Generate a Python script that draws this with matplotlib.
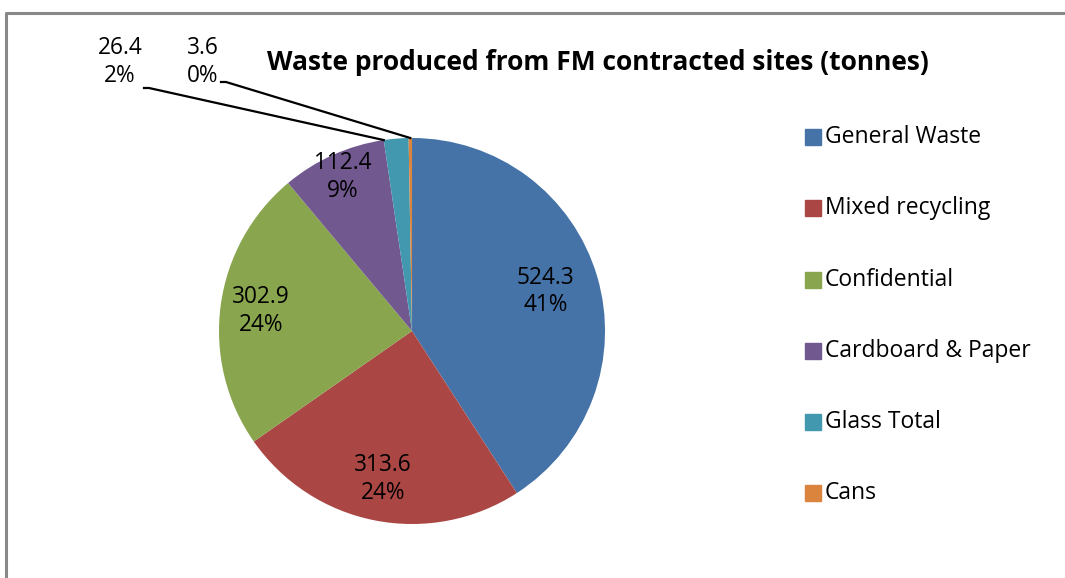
import matplotlib
matplotlib.use("Agg")
import matplotlib.pyplot as plt
import numpy as np

# data
categories = ['General Waste', 'Mixed recycling', 'Confidential',
              'Cardboard & Paper', 'Glass Total', 'Cans']
tonnes = [524.3, 313.6, 302.9, 112.4, 26.4, 3.6]
colours = ['#4572A7', '#AA4643', '#89A54E', '#71588F', '#4198AF', '#DB843D']
title = 'Waste produced from FM contracted sites (tonnes)'

plt.rcParams['font.family'] = ['Open Sans', 'DejaVu Sans']

W, H = 1065, 578
fig = plt.figure(figsize=(W / 100, H / 100), dpi=100)
ax = fig.add_axes([0, 0, 1, 1])

cx, cy, R = 412, H - 331, 193
explode = [0.03, 0, 0, 0, 0, 0]
wedges, _ = ax.pie(tonnes, colors=colours, startangle=90, counterclock=False,
                   explode=explode, center=(cx, cy), radius=R,
                   wedgeprops=dict(linewidth=0), frame=True)
ax.set_xlim(0, W)
ax.set_ylim(0, H)
ax.set_aspect('equal')
ax.axis('off')

# outer frame (only top and left visible)
ax.plot([6, 6, W + 10], [-10, H - 13, H - 13], color='#888888', lw=2.2,
        solid_capstyle='butt')

total = sum(tonnes)
pct = [v / total * 100 for v in tonnes]
fs = 16.3

# labels inside the big slices
fracs = [0.72, 0.78, 0.79, 0.875]
for i in range(4):
    w = wedges[i]
    mid = np.deg2rad((w.theta1 + w.theta2) / 2)
    wx, wy = w.center
    tx = wx + fracs[i] * R * np.cos(mid)
    ty = wy + fracs[i] * R * np.sin(mid)
    ax.text(tx, ty, '%.1f\n%.0f%%' % (tonnes[i], pct[i]), ha='center',
            va='center', fontsize=fs, linespacing=1.2)

# small slices: labels outside with leader lines
outside = {4: (120, H - 62), 5: (203, H - 62)}
for i, (tx, ty) in outside.items():
    w = wedges[i]
    a = np.deg2rad(w.theta2 if i == 4 else (w.theta1 + w.theta2) / 2)
    px = w.center[0] + R * np.cos(a)
    py = w.center[1] + R * np.sin(a)
    ax.text(tx, ty, '%.1f\n%.0f%%' % (tonnes[i], pct[i]), ha='center',
            va='center', fontsize=fs, linespacing=1.2)
    lx = tx + 24 if i == 4 else tx + 18
    ly = ty - 26 if i == 4 else ty - 20
    ax.plot([lx, lx + 5, px], [ly, ly, py], color='black', lw=1.6)

ax.text(598, H - 62, title, ha='center', va='center', fontsize=19,
        fontweight='bold')

# legend
ys = [137, 208, 280, 351, 422, 493]
for c, lab, y in zip(colours, categories, ys):
    ax.add_patch(plt.Rectangle((805, H - y - 8), 16, 16, color=c))
    ax.text(825, H - y, lab, ha='left', va='center', fontsize=16.5)

fig.savefig('out.png', dpi=100)
